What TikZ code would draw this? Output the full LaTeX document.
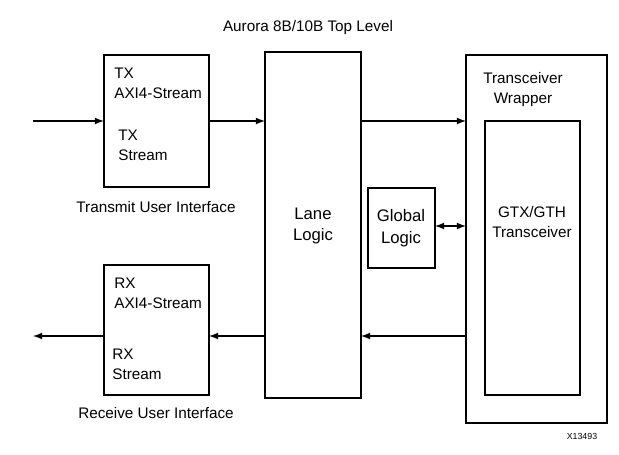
\documentclass[tikz,border=0pt]{standalone}
\usepackage{fontspec}
\setmainfont{Liberation Sans}
\usetikzlibrary{arrows}

\begin{document}
\begin{tikzpicture}[x=0.02cm,y=-0.02cm,
	blk/.style={draw=black,thick,fill=white},
	lbl/.style={font=\fontsize{8.7}{11.4}\selectfont,align=left,anchor=north west,inner sep=0pt},
	ctr/.style={font=\fontsize{8.7}{11.4}\selectfont,align=center,inner sep=0pt},
	big/.style={font=\fontsize{9.5}{12.5}\selectfont,align=center,inner sep=0pt},
	sig/.style={-latex,thick}]
		\useasboundingbox (0,0) rectangle (619,454);
		
		\node[ctr] (title) at (308,28) {Aurora 8B/10B Top Level};
		
		% transmit side
		\path[blk] (104,55) rectangle (209,187);
		\node[lbl] (txa) at (114,68) {TX\\AXI4-Stream};
		\node[lbl] (txs) at (118,130) {TX\\Stream};
		\node[ctr] (txui) at (156,207) {Transmit User Interface};
		
		% receive side
		\path[blk] (104,265) rectangle (209,395);
		\node[lbl] (rxa) at (114,278) {RX\\AXI4-Stream};
		\node[lbl] (rxs) at (112,349) {RX\\Stream};
		\node[ctr] (rxui) at (156,413) {Receive User Interface};
		
		% core
		\path[blk] (265,52) rectangle (361,398);
		\node[big] (lane) at (313,226) {Lane\\Logic};
		\path[blk] (368,188) rectangle (435,268);
		\node[big] (glob) at (401,228) {Global\\Logic};
		
		% transceiver
		\path[blk] (466,55) rectangle (607,423);
		\node[ctr] (wrap) at (523,90) {Transceiver\\Wrapper};
		\path[blk] (485,121) rectangle (580,395);
		\node[ctr] (gtx) at (532,222) {GTX/GTH\\Transceiver};
		\node[font=\fontsize{5}{6}\selectfont,inner sep=0pt] (fig) at (582,436) {X13493};
		
		% connectors
		\coordinate (tin) at (33,121);
		\coordinate (txl) at (104,121);
		\coordinate (txr) at (209,121);
		\coordinate (ll) at (265,121);
		\coordinate (lr) at (361,121);
		\coordinate (wl) at (466,121);
		\coordinate (gr) at (435,226);
		\coordinate (wg) at (466,226);
		\coordinate (wb) at (466,336);
		\coordinate (lb) at (361,336);
		\coordinate (llb) at (265,336);
		\coordinate (rxr) at (209,336);
		\coordinate (rxl) at (104,336);
		\coordinate (rout) at (33,336);
		\draw[sig] (tin) -- (txl);
		\draw[sig] (txr) -- (ll);
		\draw[sig] (lr) -- (wl);
		\draw[latex-latex,thick] (gr) -- (wg);
		\draw[sig] (wb) -- (lb);
		\draw[sig] (llb) -- (rxr);
		\draw[sig] (rxl) -- (rout);
	\end{tikzpicture}
\end{document}
